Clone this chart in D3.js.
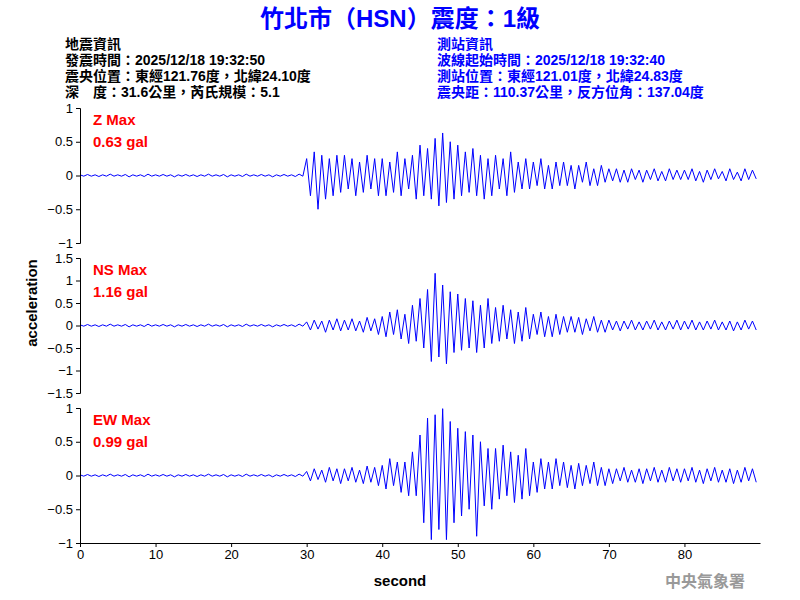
<!DOCTYPE html><html><head><meta charset="utf-8">
<script src="https://cdn.jsdelivr.net/npm/d3@7"></script>
<style>body{margin:0;background:#fff}text{font-family:"Liberation Sans","Noto Sans CJK TC",sans-serif}</style>
</head><body><svg id="c" width="800" height="600"></svg>
<script>
const title="竹北市（HSN）震度：1級";
const leftInfo=["地震資訊","發震時間：2025/12/18 19:32:50","震央位置：東經121.76度，北緯24.10度","深　度：31.6公里，芮氏規模：5.1"];
const rightInfo=["測站資訊","波線起始時間：2025/12/18 19:32:40","測站位置：東經121.01度，北緯24.83度","震央距：110.37公里，反方位角：137.04度"];
const xTicks=[0,10,20,30,40,50,60,70,80];
const dt=0.5;
const quiet=[0.01,-0.01,0.015,-0.01,0.01,-0.015,0.01,-0.01,0.02,-0.01,0.01,-0.01,0.015,-0.02,0.01,-0.01,0.01,-0.015,0.02,-0.01,0.01,-0.01,0.015,-0.01,0.01,-0.02,0.01,-0.01,0.015,-0.01,0.01,-0.015,0.01,-0.01,0.02,-0.01,0.01,-0.01,0.015,-0.02,0.01,-0.01,0.01,-0.015,0.02,-0.01,0.01,-0.01,0.015,-0.01,0.01,-0.02,0.01,-0.01,0.015,-0.01,0.01,-0.015,0.02,-0.01];
const zVals=quiet.concat([0.25,-0.3,0.35,-0.5,0.3,-0.35,0.25,-0.3,0.3,-0.25,
0.3,-0.2,0.25,-0.3,0.2,-0.25,0.3,-0.2,0.25,-0.3,
0.25,-0.3,0.2,-0.25,0.35,-0.3,0.25,-0.2,0.3,-0.35,
0.45,-0.3,0.4,-0.35,0.55,-0.45,0.63,-0.4,0.5,-0.35,
0.45,-0.3,0.35,-0.25,0.4,-0.3,0.3,-0.35,0.25,-0.3,
0.3,-0.2,0.25,-0.3,0.35,-0.25,0.2,-0.2,0.25,-0.2,
0.2,-0.15,0.25,-0.2,0.15,-0.2,0.2,-0.15,0.2,-0.15,
0.15,-0.2,0.15,-0.1,0.2,-0.15,0.1,-0.15,0.15,-0.1,
0.1,-0.08,0.1,-0.1,0.08,-0.1,0.1,-0.06,0.08,-0.1,0.08,-0.06,0.1,-0.08,0.06,-0.08,0.1,-0.06,0.08,-0.06,
0.08,-0.06,0.1,-0.08,0.06,-0.1,0.08,-0.06,0.1,-0.05,0.06,-0.08,0.1,-0.06,0.05,-0.08,0.1,-0.06,0.08,-0.05]);
const nsVals=quiet.map(v=>v*1.5).concat([0.08,-0.1,0.12,-0.08,0.1,-0.15,0.12,-0.1,0.15,-0.12,
0.12,-0.1,0.15,-0.12,0.1,-0.15,0.18,-0.12,0.15,-0.2,
0.2,-0.25,0.3,-0.2,0.35,-0.3,0.25,-0.4,0.45,-0.35,
0.6,-0.5,0.8,-0.8,1.16,-0.7,0.9,-0.85,0.75,-0.6,
0.7,-0.55,0.6,-0.5,0.55,-0.6,0.45,-0.5,0.6,-0.4,
0.4,-0.35,0.45,-0.3,0.35,-0.4,0.3,-0.35,0.4,-0.3,
0.25,-0.2,0.3,-0.25,0.2,-0.25,0.25,-0.2,0.2,-0.15,
0.2,-0.15,0.18,-0.2,0.15,-0.12,0.2,-0.15,0.12,-0.15,
0.12,-0.1,0.1,-0.12,0.1,-0.08,0.12,-0.1,0.08,-0.1,0.1,-0.08,0.12,-0.1,0.08,-0.1,0.1,-0.08,0.12,-0.1,
0.1,-0.08,0.12,-0.1,0.08,-0.1,0.1,-0.08,0.12,-0.1,0.08,-0.1,0.1,-0.12,0.08,-0.1,0.12,-0.08,0.1,-0.1]);
const ewVals=quiet.concat([0.06,-0.08,0.1,-0.06,0.08,-0.1,0.12,-0.08,0.1,-0.12,
0.1,-0.08,0.12,-0.1,0.08,-0.12,0.14,-0.1,0.12,-0.15,
0.15,-0.2,0.25,-0.15,0.2,-0.25,0.2,-0.3,0.35,-0.3,
0.6,-0.7,0.85,-0.95,0.9,-0.8,0.99,-0.95,0.8,-0.7,
0.7,-0.6,0.65,-0.5,0.6,-0.9,0.5,-0.45,0.4,-0.5,
0.4,-0.35,0.45,-0.3,0.35,-0.4,0.3,-0.35,0.4,-0.3,
0.2,-0.25,0.25,-0.2,0.2,-0.2,0.25,-0.15,0.2,-0.18,
0.15,-0.2,0.18,-0.15,0.15,-0.12,0.2,-0.15,0.12,-0.15,
0.1,-0.12,0.1,-0.08,0.12,-0.1,0.08,-0.1,0.1,-0.12,0.1,-0.08,0.12,-0.1,0.08,-0.1,0.12,-0.08,0.1,-0.1,
0.1,-0.08,0.12,-0.1,0.08,-0.12,0.1,-0.08,0.12,-0.1,0.08,-0.1,0.1,-0.12,0.08,-0.1,0.12,-0.08,0.1,-0.1]);
const panels=[
 {name:"Z Max",max:"0.63 gal",vals:zVals,lim:1,ticks:[-1,-0.5,0,0.5,1],top:108},
 {name:"NS Max",max:"1.16 gal",vals:nsVals,lim:1.5,ticks:[-1.5,-1,-0.5,0,0.5,1,1.5],top:258},
 {name:"EW Max",max:"0.99 gal",vals:ewVals,lim:1,ticks:[-1,-0.5,0,0.5,1],top:408}];
const svg=d3.select("#c");
const x=d3.scaleLinear().domain([0,90]).range([80,760]);
svg.append("text").attr("x",400).attr("y",27).attr("text-anchor","middle").attr("fill","#0000ff").attr("font-size",24).attr("font-weight","bold").text(title);
leftInfo.forEach((t,i)=>svg.append("text").attr("x",65).attr("y",49+i*16).attr("font-size",14).attr("font-weight","bold").attr("fill","#000").text(t));
rightInfo.forEach((t,i)=>svg.append("text").attr("x",437).attr("y",49+i*16).attr("font-size",14).attr("font-weight","bold").attr("fill","#0000ff").text(t));
panels.forEach((p,k)=>{
 const y=d3.scaleLinear().domain([-p.lim,p.lim]).range([p.top+135,p.top]);
 svg.append("path").datum(p.vals).attr("fill","none").attr("stroke","#0000ff").attr("stroke-width",1)
  .attr("d",d3.line().x((d,i)=>x(i*dt)).y(d=>y(d)));
 const ay=svg.append("g").attr("transform","translate(80,0)").call(d3.axisLeft(y).tickValues(p.ticks).tickSize(4).tickFormat(d3.format("")));
 ay.selectAll("text").attr("font-size",13).attr("fill","#000");
 svg.append("text").attr("x",93).attr("y",p.top+17).attr("fill","#ff0000").attr("font-size",15).attr("font-weight","bold").text(p.name);
 svg.append("text").attr("x",93).attr("y",p.top+39).attr("fill","#ff0000").attr("font-size",15).attr("font-weight","bold").text(p.max);
 if(k==2){
  const ax=svg.append("g").attr("transform",`translate(0,${p.top+135})`).call(d3.axisBottom(x).tickValues(xTicks).tickSize(4).tickSizeOuter(0));
  ax.selectAll("text").attr("font-size",13).attr("fill","#000");
 }
});
svg.append("text").attr("x",400).attr("y",586).attr("text-anchor","middle").attr("font-size",15).attr("font-weight","bold").text("second");
svg.append("text").attr("transform","translate(37,303) rotate(-90)").attr("text-anchor","middle").attr("font-size",15).attr("font-weight","bold").text("acceleration");
svg.append("text").attr("x",745).attr("y",587).attr("text-anchor","end").attr("font-size",16).attr("font-weight","bold").attr("fill","#999").text("中央氣象署");
</script></body></html>
